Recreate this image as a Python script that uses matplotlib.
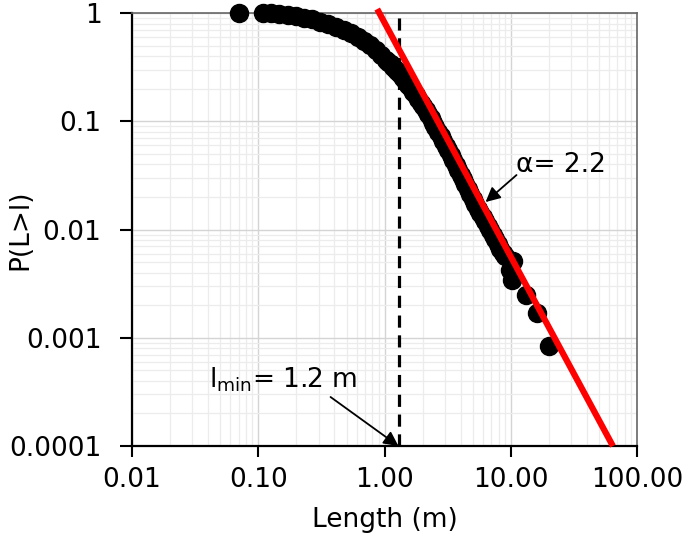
import matplotlib
matplotlib.use("Agg")
import matplotlib.pyplot as plt

# CCDF of lengths
length = [0.0698, 0.1081, 0.1252, 0.1448, 0.1706, 0.1973, 0.2284, 0.2642, 0.3057, 0.3537,
          0.4093, 0.4735, 0.538, 0.6111, 0.6819, 0.7606, 0.8486, 0.9297, 1.018, 1.066,
          1.116, 1.168, 1.222, 1.279, 1.339, 1.401, 1.466, 1.535, 1.607, 1.682,
          1.76, 1.842, 1.928, 2.018, 2.112, 2.21, 2.313, 2.421, 2.533, 2.652,
          2.776, 2.905, 3.041, 3.183, 3.331, 3.486, 3.649, 3.819, 3.997, 4.183,
          4.378, 4.582, 4.796, 5.019, 5.253, 5.499, 5.756, 6.024, 6.305, 6.599,
          6.907, 7.229, 7.566, 7.918, 8.287, 8.674, 9.079, 10.5, 9.945, 10.31,
          13.08, 16.27, 20.25]
prob = [1.0, 1.0, 0.9936, 0.979, 0.958, 0.938, 0.909, 0.875, 0.835, 0.791,
        0.75, 0.704, 0.653, 0.606, 0.557, 0.506, 0.455, 0.409, 0.372, 0.3546,
        0.338, 0.319, 0.301, 0.284, 0.268, 0.25, 0.233, 0.2175, 0.203, 0.1885,
        0.175, 0.1615, 0.149, 0.1376, 0.127, 0.1167, 0.1072, 0.0974, 0.0885, 0.0804,
        0.0731, 0.0661, 0.0597, 0.054, 0.0488, 0.0441, 0.0399, 0.0358, 0.0322, 0.0291,
        0.0263, 0.0237, 0.0213, 0.0191, 0.0172, 0.0156, 0.0142, 0.01305, 0.012, 0.01089,
        0.00989, 0.00899, 0.00817, 0.00735, 0.00661, 0.00613, 0.00569, 0.00512, 0.00422, 0.00342,
        0.00248, 0.00169, 0.000839]

# power-law fit line (endpoints) and l_min
fit_x = [0.875, 64.4]
fit_y = [1.089, 1e-4]
l_min = 1.3

x_ticks = [0.01, 0.1, 1, 10, 100]
x_labels = ["0.01", "0.10", "1.00", "10.00", "100.00"]
y_ticks = [1e-4, 1e-3, 1e-2, 1e-1, 1]
y_labels = ["0.0001", "0.001", "0.01", "0.1", "1"]

plt.rcParams['font.family'] = ['DejaVu Sans']
plt.rcParams['font.size'] = 19

fig = plt.figure(figsize=(6.85, 5.44), dpi=100)
ax = fig.add_axes([0.1927, 0.180, 0.7373, 0.796])
ax.set_xscale('log')
ax.set_yscale('log')
ax.set_xlim(0.01, 100)
ax.set_ylim(1e-4, 1)

ax.grid(True, which='major', color='#d4d4d4', lw=1.0, zorder=0)
ax.grid(True, which='minor', color='#ececec', lw=0.9, zorder=0)
ax.set_axisbelow(True)

ax.axvline(l_min, color='black', lw=2.3, ls=(0, (3.8, 2.4)), zorder=2)
ax.plot(length, prob, 'o', color='black', ms=13, mec='black', clip_on=False, zorder=3)
ax.plot(fit_x, fit_y, color='#ff0000', lw=4.5, solid_capstyle='butt', clip_on=False, zorder=4)

ax.set_xticks(x_ticks)
ax.set_xticklabels(x_labels)
ax.set_yticks(y_ticks)
ax.set_yticklabels(y_labels)
ax.tick_params(which='minor', length=0)
ax.tick_params(axis='x', which='major', length=8, width=1.5, pad=7)
ax.tick_params(axis='y', which='major', length=9, width=1.5, pad=13)

for side in ['left', 'bottom']:
    ax.spines[side].set_color('black')
    ax.spines[side].set_linewidth(1.6)
for side in ['top', 'right']:
    ax.spines[side].set_color('#666666')
    ax.spines[side].set_linewidth(1.2)

ax.set_xlabel('Length (m)', labelpad=10)
ax.set_ylabel('P(L>l)')
ax.yaxis.set_label_coords(-0.196, 0.5)

arrow = dict(arrowstyle='-|>', color='black', lw=1.3, mutation_scale=22, shrinkA=0, shrinkB=0)
ax.text(10.9, 0.034, 'α= 2.2', ha='left', va='baseline')
ax.annotate('', xy=(6.31, 0.01795), xytext=(11.1, 0.0319), arrowprops=arrow)
ax.text(0.0404, 0.000351, r'l$_{\mathrm{min}}$= 1.2 m', ha='left', va='baseline')
ax.annotate('', xy=(1.29, 1e-4), xytext=(0.3737, 0.000284), arrowprops=arrow)

fig.savefig('out.png', dpi=100)
